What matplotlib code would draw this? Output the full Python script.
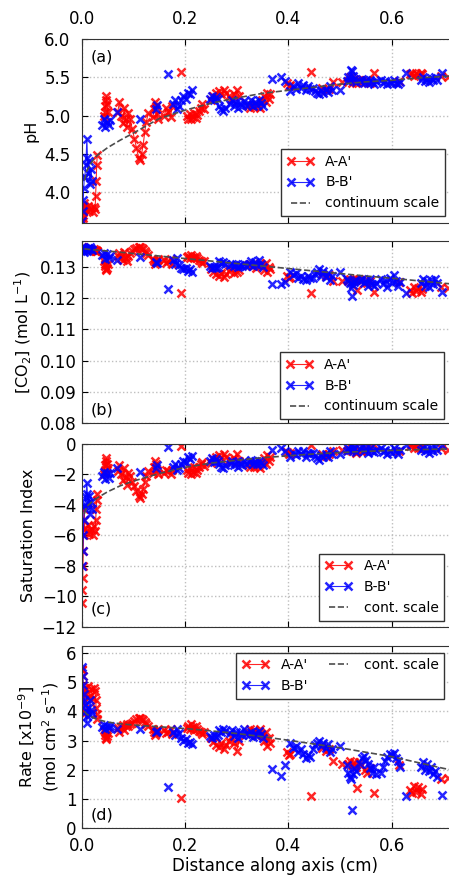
import numpy as np
import matplotlib.pyplot as plt
from matplotlib.ticker import FormatStrFormatter

nan = np.nan

# Profile A-A' : positions along axis (cm), clusters split by nan
red_x = [0.001, 0.0015, 0.002, 0.0025, 0.003, 0.0035, 0.004, 0.005,
         0.006, 0.009, 0.012, 0.015, 0.018, 0.021, 0.024, 0.026, 0.027, 0.028, 0.029, 0.030, nan,
         0.044, 0.045, 0.046, 0.047, 0.048, 0.049, 0.050, nan,
         0.070, 0.073, 0.076, 0.079, 0.082, 0.085, 0.088, 0.090,
         0.094, 0.098, 0.102, 0.106, 0.110, 0.113, 0.116, 0.119, 0.122, 0.125, 0.129, nan,
         0.138, 0.140, 0.142, 0.144, 0.146, 0.148, nan,
         0.160, 0.164, 0.168, 0.172, 0.175, nan,
         0.192, nan,
         0.203, 0.206, 0.209, 0.212, 0.215, 0.218, 0.221, 0.224, 0.227, 0.230, 0.233, 0.236, nan,
         0.250, 0.255, 0.260, 0.265, 0.270, 0.275, 0.280, 0.285, 0.290, 0.295, 0.300, 0.305, nan,
         0.322, 0.326, 0.330, 0.334, 0.338, 0.342, 0.346, 0.350, 0.353, 0.356, 0.359, 0.362, 0.365, nan,
         0.398, 0.401, 0.404, nan,
         0.444, nan,
         0.465, 0.472, 0.479, nan,
         0.487, nan, 0.503, nan,
         0.516, 0.520, 0.524, 0.528, 0.532, 0.536, 0.540, nan,
         0.533, nan,
         0.548, 0.553, 0.558, nan,
         0.566, nan,
         0.614, nan,
         0.636, 0.640, 0.644, 0.648, 0.652, 0.656, 0.659, nan,
         0.695, nan, 0.710]

red_ph = [3.60, 3.62, 3.66, 3.70, 3.74, 3.78, 3.82, 3.86,
          3.80, 3.76, 3.82, 3.75, 3.79, 3.74, 3.80, 3.78, 3.95, 4.15, 4.35, 4.48, nan,
          5.00, 5.05, 5.12, 5.20, 5.25, 5.15, 5.05, nan,
          5.05, 5.18, 5.00, 4.90, 5.10, 4.95, 4.85, 5.03,
          4.95, 4.82, 4.70, 4.58, 4.45, 4.42, 4.50, 4.62, 4.78, 4.92, 5.03, nan,
          4.98, 5.08, 5.18, 5.12, 5.02, 4.96, nan,
          5.00, 5.10, 5.05, 4.98, 5.12, nan,
          5.57, nan,
          5.00, 4.96, 5.02, 4.95, 4.98, 5.03, 4.97, 5.01, 5.06, 5.10, 5.15, 5.08, nan,
          5.20, 5.26, 5.30, 5.32, 5.28, 5.33, 5.30, 5.25, 5.22, 5.28, 5.33, 5.25, nan,
          5.12, 5.10, 5.14, 5.11, 5.15, 5.12, 5.10, 5.20, 5.26, 5.18, 5.30, 5.22, 5.28, nan,
          5.42, 5.38, 5.40, nan,
          5.57, nan,
          5.36, 5.33, 5.35, nan,
          5.44, nan, 5.44, nan,
          5.45, 5.50, 5.43, 5.48, 5.42, 5.46, 5.44, nan,
          5.47, nan,
          5.44, 5.46, 5.43, nan,
          5.55, nan,
          5.45, nan,
          5.54, 5.56, 5.52, 5.55, 5.53, 5.56, 5.54, nan,
          5.52, nan, 5.50]

red_co2 = [0.1365, 0.1362, 0.1360, 0.1363, 0.1358, 0.1361, 0.1359, 0.1362,
           0.1358, 0.1355, 0.1359, 0.1353, 0.1357, 0.1354, 0.1356, 0.1352, 0.1353, 0.1350, 0.1352, 0.1351, nan,
           0.1318, 0.1310, 0.1302, 0.1295, 0.1290, 0.1298, 0.1308, nan,
           0.1335, 0.1345, 0.1330, 0.1322, 0.1348, 0.1328, 0.1318, 0.1335,
           0.1345, 0.1350, 0.1356, 0.1360, 0.1364, 0.1365, 0.1362, 0.1358, 0.1352, 0.1345, 0.1338, nan,
           0.1325, 0.1318, 0.1311, 0.1315, 0.1322, 0.1327, nan,
           0.1322, 0.1312, 0.1318, 0.1325, 0.1310, nan,
           0.1217, nan,
           0.1332, 0.1336, 0.1330, 0.1338, 0.1333, 0.1328, 0.1335, 0.1330, 0.1322, 0.1318, 0.1312, 0.1320, nan,
           0.1294, 0.1285, 0.1278, 0.1272, 0.1282, 0.1268, 0.1276, 0.1288, 0.1295, 0.1280, 0.1285, 0.1290, nan,
           0.1305, 0.1310, 0.1302, 0.1308, 0.1298, 0.1305, 0.1312, 0.1305, 0.1290, 0.1312, 0.1285, 0.1300, 0.1292, nan,
           0.1272, 0.1264, 0.1268, nan,
           0.1217, nan,
           0.1278, 0.1272, 0.1275, nan,
           0.1255, nan, 0.1255, nan,
           0.1258, 0.1262, 0.1256, 0.1260, 0.1257, 0.1261, 0.1258, nan,
           0.1225, nan,
           0.1252, 0.1248, 0.1255, nan,
           0.1221, nan,
           0.1251, nan,
           0.1225, 0.1218, 0.1235, 0.1222, 0.1232, 0.1219, 0.1228, nan,
           0.1235, nan, 0.1232]

red_si = [-10.4, -9.6, -8.8, -8.0, -7.0, -6.0, -5.0, -4.3,
          -5.5, -5.8, -5.3, -5.9, -5.6, -5.95, -5.4, -5.7, -5.0, -4.3, -3.7, -3.3, nan,
          -2.0, -1.7, -1.4, -1.1, -0.95, -1.3, -1.6, nan,
          -1.8, -1.4, -2.0, -2.4, -1.6, -2.2, -2.7, -1.9,
          -2.1, -2.5, -2.8, -3.1, -3.45, -3.58, -3.3, -2.95, -2.5, -2.1, -1.8, nan,
          -1.9, -1.5, -1.15, -1.35, -1.75, -2.0, nan,
          -1.9, -1.7, -1.8, -2.0, -1.7, nan,
          -0.12, nan,
          -1.7, -1.95, -1.6, -2.0, -1.85, -1.55, -1.9, -1.7, -1.5, -1.35, -1.2, -1.45, nan,
          -1.25, -1.0, -0.85, -0.75, -0.95, -0.7, -0.85, -1.05, -1.2, -0.95, -0.65, -1.1, nan,
          -1.4, -1.55, -1.35, -1.5, -1.3, -1.45, -1.6, -1.2, -0.95, -1.3, -0.75, -1.1, -0.85, nan,
          -0.55, -0.7, -0.6, nan,
          -0.08, nan,
          -0.7, -0.8, -0.65, nan,
          -0.45, nan, -0.4, nan,
          -0.4, -0.15, -0.5, -0.25, -0.6, -0.35, -0.45, nan,
          -0.5, nan,
          -0.3, -0.45, -0.2, nan,
          -0.08, nan,
          -0.5, nan,
          -0.15, -0.05, -0.3, -0.1, -0.25, -0.02, -0.2, nan,
          -0.3, nan, -0.4]

red_rate = [5.45, 5.4, 5.2, 4.9, 4.6, 4.3, 4.0, 3.9,
            4.8, 4.6, 4.85, 4.5, 4.75, 4.45, 4.8, 4.7, 4.4, 4.1, 3.9, 3.75, nan,
            3.35, 3.28, 3.2, 3.1, 3.04, 3.15, 3.25, nan,
            3.42, 3.3, 3.45, 3.52, 3.35, 3.48, 3.55, 3.5,
            3.55, 3.6, 3.65, 3.72, 3.76, 3.78, 3.74, 3.7, 3.62, 3.55, 3.5, nan,
            3.38, 3.3, 3.2, 3.25, 3.35, 3.4, nan,
            3.35, 3.25, 3.3, 3.4, 3.22, nan,
            1.05, nan,
            3.42, 3.5, 3.38, 3.55, 3.45, 3.36, 3.48, 3.4, 3.32, 3.28, 3.21, 3.3, nan,
            3.1, 2.95, 2.85, 2.78, 2.9, 2.72, 2.85, 3.0, 3.12, 2.9, 2.65, 3.0, nan,
            3.3, 3.4, 3.25, 3.35, 3.2, 3.3, 3.38, 3.2, 3.0, 3.3, 2.8, 3.1, 2.9, nan,
            2.62, 2.5, 2.55, nan,
            1.09, nan,
            2.75, 2.65, 2.7, nan,
            2.3, nan, 2.2, nan,
            2.2, 2.3, 2.15, 2.25, 2.1, 2.28, 2.18, nan,
            1.38, nan,
            2.0, 1.9, 2.05, nan,
            1.2, nan,
            2.15, nan,
            1.3, 1.2, 1.45, 1.25, 1.4, 1.17, 1.35, nan,
            1.68, nan, 1.73]

# Profile B-B'
blue_x = [0.001, 0.002, 0.003, 0.004, 0.005,
          0.006, 0.008, 0.010, 0.011, 0.012, 0.014, 0.016, 0.018, 0.020, nan,
          0.040, 0.043, 0.046, 0.049, 0.052, 0.055, nan,
          0.068, nan,
          0.113, nan,
          0.144, 0.146, nan,
          0.168, nan,
          0.177, 0.181, 0.185, 0.189, 0.193, 0.197, 0.201, 0.205, 0.209, 0.213, nan,
          0.248, 0.252, 0.256, 0.260, 0.264, nan,
          0.266, 0.270, 0.274, 0.278, nan,
          0.287, 0.291, 0.295, 0.299, 0.303, 0.307, 0.311, 0.315, 0.319, nan,
          0.323, 0.327, 0.331, 0.335, 0.339, 0.343, 0.347, 0.351, nan,
          0.368, nan, 0.385, nan, 0.394, nan,
          0.404, 0.409, 0.414, 0.419, 0.424, 0.429, 0.434, 0.439, 0.442, nan,
          0.448, 0.452, 0.456, 0.460, 0.464, 0.468, 0.472, 0.476, 0.480, 0.484, nan,
          0.500, nan,
          0.513, 0.516, 0.519, 0.522, 0.525, 0.528, 0.531, nan,
          0.524, nan,
          0.538, 0.542, 0.546, 0.550, 0.554, 0.558, 0.562, 0.566, 0.570, nan,
          0.580, 0.584, 0.588, 0.592, 0.596, 0.600, 0.604, 0.608, 0.612, 0.616, nan,
          0.627, nan,
          0.656, 0.660, 0.664, 0.668, 0.672, 0.676, 0.680, 0.684, 0.688, nan,
          0.697]

blue_ph = [3.62, 3.75, 3.90, 4.05, 4.20,
           4.20, 4.35, 4.70, 4.45, 4.25, 4.40, 4.10, 4.30, 4.15, nan,
           4.88, 4.95, 4.85, 4.92, 4.87, 4.94, nan,
           5.05, nan,
           4.95, nan,
           5.08, 5.14, nan,
           5.54, nan,
           5.15, 5.20, 5.08, 5.12, 5.20, 5.25, 5.22, 5.30, 5.28, 5.33, nan,
           5.22, 5.25, 5.20, 5.24, 5.21, nan,
           5.12, 5.08, 5.06, 5.10, nan,
           5.15, 5.20, 5.12, 5.18, 5.10, 5.16, 5.12, 5.19, 5.14, nan,
           5.15, 5.20, 5.13, 5.18, 5.14, 5.20, 5.16, 5.13, nan,
           5.48, nan, 5.50, nan, 5.45, nan,
           5.32, 5.38, 5.35, 5.42, 5.36, 5.40, 5.33, 5.38, 5.35, nan,
           5.36, 5.32, 5.30, 5.28, 5.33, 5.29, 5.35, 5.31, 5.38, 5.34, nan,
           5.34, nan,
           5.45, 5.50, 5.47, 5.59, 5.52, 5.48, 5.44, nan,
           5.58, nan,
           5.45, 5.48, 5.43, 5.46, 5.42, 5.47, 5.44, 5.41, 5.45, nan,
           5.47, 5.43, 5.45, 5.41, 5.44, 5.42, 5.46, 5.43, 5.41, 5.44, nan,
           5.56, nan,
           5.47, 5.50, 5.45, 5.48, 5.44, 5.49, 5.46, 5.50, 5.47, nan,
           5.56]

blue_co2 = [0.1365, 0.1358, 0.1352, 0.1348, 0.1362,
            0.1362, 0.1358, 0.1352, 0.1356, 0.1362, 0.1357, 0.1364, 0.1359, 0.1355, nan,
            0.1338, 0.1345, 0.1325, 0.1342, 0.1330, 0.1335, nan,
            0.1322, nan,
            0.1332, nan,
            0.1316, 0.1312, nan,
            0.1228, nan,
            0.1322, 0.1310, 0.1328, 0.1305, 0.1298, 0.1293, 0.1296, 0.1288, 0.1292, 0.1284, nan,
            0.1302, 0.1298, 0.1301, 0.1297, 0.1300, nan,
            0.1318, 0.1314, 0.1316, 0.1310, nan,
            0.1305, 0.1310, 0.1302, 0.1308, 0.1300, 0.1306, 0.1303, 0.1310, 0.1304, nan,
            0.1308, 0.1318, 0.1302, 0.1315, 0.1305, 0.1322, 0.1310, 0.1300, nan,
            0.1247, nan, 0.1245, nan, 0.1253, nan,
            0.1285, 0.1275, 0.1280, 0.1265, 0.1272, 0.1262, 0.1258, 0.1270, 0.1266, nan,
            0.1265, 0.1278, 0.1285, 0.1295, 0.1272, 0.1288, 0.1268, 0.1280, 0.1257, 0.1270, nan,
            0.1284, nan,
            0.1262, 0.1255, 0.1248, 0.1232, 0.1242, 0.1252, 0.1258, nan,
            0.1206, nan,
            0.1255, 0.1262, 0.1248, 0.1258, 0.1240, 0.1260, 0.1245, 0.1238, 0.1250, nan,
            0.1262, 0.1245, 0.1258, 0.1235, 0.1265, 0.1248, 0.1273, 0.1255, 0.1240, 0.1252, nan,
            0.1218, nan,
            0.1250, 0.1263, 0.1240, 0.1255, 0.1235, 0.1258, 0.1245, 0.1260, 0.1248, nan,
            0.1221]

blue_si = [-8.0, -7.0, -6.0, -5.0, -4.1,
           -4.0, -3.5, -2.6, -3.3, -3.9, -3.4, -4.6, -3.8, -4.3, nan,
           -2.1, -1.85, -2.3, -1.95, -2.25, -1.9, nan,
           -1.6, nan,
           -1.85, nan,
           -1.6, -1.4, nan,
           -0.2, nan,
           -1.5, -1.3, -1.7, -1.6, -1.3, -1.1, -1.2, -0.9, -1.0, -0.8, nan,
           -1.1, -0.95, -1.2, -1.0, -1.15, nan,
           -1.35, -1.5, -1.6, -1.4, nan,
           -1.3, -1.1, -1.4, -1.2, -1.5, -1.25, -1.4, -1.15, -1.3, nan,
           -1.2, -1.08, -1.35, -1.15, -1.3, -1.1, -1.25, -1.4, nan,
           -0.4, nan, -0.3, nan, -0.45, nan,
           -0.9, -0.6, -0.75, -0.45, -0.7, -0.5, -0.85, -0.6, -0.7, nan,
           -0.6, -0.8, -0.95, -1.05, -0.75, -0.9, -0.65, -0.85, -0.5, -0.7, nan,
           -0.7, nan,
           -0.5, -0.3, -0.4, -0.08, -0.2, -0.35, -0.55, nan,
           -0.1, nan,
           -0.35, -0.2, -0.5, -0.3, -0.6, -0.25, -0.45, -0.55, -0.4, nan,
           -0.3, -0.55, -0.4, -0.7, -0.45, -0.6, -0.25, -0.5, -0.65, -0.4, nan,
           -0.08, nan,
           -0.4, -0.25, -0.5, -0.35, -0.6, -0.3, -0.45, -0.2, -0.4, nan,
           -0.08]

blue_rate = [5.5, 5.2, 4.9, 4.6, 4.4,
             4.2, 4.0, 3.6, 3.85, 4.1, 3.9, 4.4, 4.05, 3.95, nan,
             3.45, 3.52, 3.4, 3.5, 3.42, 3.48, nan,
             3.38, nan,
             3.4, nan,
             3.28, 3.32, nan,
             1.4, nan,
             3.3, 3.2, 3.38, 3.25, 3.1, 3.0, 3.05, 2.9, 2.95, 2.87, nan,
             3.15, 3.1, 3.2, 3.12, 3.18, nan,
             3.35, 3.3, 3.38, 3.32, nan,
             3.25, 3.35, 3.15, 3.3, 3.1, 3.28, 3.2, 3.38, 3.22, nan,
             3.2, 3.3, 3.12, 3.25, 3.15, 3.32, 3.22, 3.1, nan,
             2.02, nan, 1.78, nan, 2.15, nan,
             2.9, 2.75, 2.8, 2.6, 2.7, 2.55, 2.4, 2.5, 2.45, nan,
             2.7, 2.85, 2.9, 2.98, 2.8, 2.92, 2.75, 2.88, 2.6, 2.72, nan,
             2.8, nan,
             2.15, 1.9, 1.75, 1.7, 1.85, 2.05, 1.95, nan,
             0.63, nan,
             2.2, 2.4, 2.47, 2.35, 2.2, 2.05, 1.9, 2.1, 1.85, nan,
             1.9, 2.1, 2.3, 2.45, 2.55, 2.5, 2.59, 2.4, 2.3, 2.1, nan,
             1.1, nan,
             2.1, 2.25, 2.0, 2.2, 1.95, 2.1, 1.85, 1.95, 1.75, nan,
             1.13]

# Continuum-scale model curves
cont_x = [0.005, 0.01, 0.02, 0.03, 0.05, 0.075, 0.1, 0.15, 0.2, 0.25,
          0.3, 0.35, 0.4, 0.45, 0.5, 0.55, 0.6, 0.65, 0.7, 0.75]
cont_ph = [4.15, 4.28, 4.40, 4.48, 4.58, 4.68, 4.77, 4.96, 5.07, 5.16,
           5.23, 5.29, 5.33, 5.37, 5.41, 5.44, 5.46, 5.49, 5.51, 5.53]
cont_co2 = [0.1358, 0.1357, 0.1355, 0.1354, 0.1351, 0.1347, 0.1343, 0.1335, 0.1327, 0.1319,
            0.1311, 0.1303, 0.1295, 0.1287, 0.1279, 0.1271, 0.1264, 0.1256, 0.1248, 0.1241]
cont_si = [-4.6, -4.1, -3.8, -3.55, -3.15, -2.75, -2.45, -1.95, -1.55, -1.27,
           -1.08, -0.92, -0.79, -0.67, -0.58, -0.50, -0.44, -0.39, -0.35, -0.31]
cont_rate = [4.0, 3.9, 3.8, 3.72, 3.63, 3.57, 3.53, 3.47, 3.41, 3.33,
             3.24, 3.13, 3.01, 2.88, 2.75, 2.60, 2.45, 2.25, 2.05, 1.88]

plt.rcParams['font.family'] = 'DejaVu Sans'
plt.rcParams['font.size'] = 11.5
plt.rcParams['mathtext.default'] = 'regular'

W, H = 449.0, 875.0
fig = plt.figure(figsize=(W / 100, H / 100), dpi=100)


def add_panel(top, bottom):
    # axes box in pixel units; right edge runs past the canvas
    return fig.add_axes([81.7 / W, 1 - bottom / H, 387.4 / W, (bottom - top) / H])


panels = [
    dict(box=(39, 222.7), red=red_ph, blue=blue_ph, cont=cont_ph, ylim=(3.6, 6.0),
         yticks=[4.0, 4.5, 5.0, 5.5, 6.0], fmt='%.1f', ylabel='pH',
         tag='(a)', tag_y=0.945, tag_va='top', cont_label='continuum scale',
         leg=dict(loc='lower right', anchor=(445, 216), ncol=1)),
    dict(box=(241, 423.3), red=red_co2, blue=blue_co2, cont=cont_co2, ylim=(0.08, 0.1383),
         yticks=[0.08, 0.09, 0.10, 0.11, 0.12, 0.13], fmt='%.2f',
         ylabel='[CO$_2$] (mol L$^{-1}$)',
         tag='(b)', tag_y=0.03, tag_va='bottom', cont_label='continuum scale',
         leg=dict(loc='lower right', anchor=(444, 419), ncol=1)),
    dict(box=(443.7, 627), red=red_si, blue=blue_si, cont=cont_si, ylim=(-12, 0),
         yticks=[-12, -10, -8, -6, -4, -2, 0], fmt=None, ylabel='Saturation Index',
         tag='(c)', tag_y=0.055, tag_va='bottom', cont_label='cont. scale',
         leg=dict(loc='lower right', anchor=(444, 620.7), ncol=1)),
    dict(box=(646, 828.3), red=red_rate, blue=blue_rate, cont=cont_rate, ylim=(0, 6.23),
         yticks=[0, 1, 2, 3, 4, 5, 6], fmt=None,
         ylabel='Rate [x10$^{-9}$]\n(mol cm$^2$ s$^{-1}$)',
         tag='(d)', tag_y=0.03, tag_va='bottom', cont_label='cont. scale',
         leg=dict(loc='upper right', anchor=(444, 652.7), ncol=2)),
]

for i, p in enumerate(panels):
    ax = add_panel(*p['box'])
    hr, = ax.plot(red_x, p['red'], '-', color='r', lw=0.8, marker='x', ms=6, mew=1.8,
                  alpha=0.85, label="A-A'")
    hb, = ax.plot(blue_x, p['blue'], '-', color='b', lw=0.8, marker='x', ms=6, mew=1.8,
                  alpha=0.85, label="B-B'")
    hc, = ax.plot(cont_x, p['cont'], '--', color='0.3', lw=1.2, label=p['cont_label'])

    ax.set_xlim(0, 0.75)
    ax.set_ylim(*p['ylim'])
    ax.set_xticks([0.0, 0.2, 0.4, 0.6])
    ax.xaxis.set_major_formatter(FormatStrFormatter('%.1f'))
    ax.set_yticks(p['yticks'])
    if p['fmt']:
        ax.yaxis.set_major_formatter(FormatStrFormatter(p['fmt']))
    ax.grid(True, color='0.75', linestyle=':', lw=1.0)
    ax.tick_params(direction='in', top=True, right=True, length=4, labelsize=12)
    ax.tick_params(axis='x', pad=6)
    for sp in ax.spines.values():
        sp.set_color('0.2')

    if i == 0:
        ax.tick_params(labeltop=True, labelbottom=False, pad=8)
    elif i == 3:
        ax.set_xlabel('Distance along axis (cm)', fontsize=12, labelpad=2)
    else:
        ax.tick_params(labelbottom=False)

    ax.set_ylabel(p['ylabel'], fontsize=11.5)
    ax.text(0.023, p['tag_y'], p['tag'], transform=ax.transAxes, ha='left',
            va=p['tag_va'], fontsize=11.5)

    lg = p['leg']
    leg = fig.legend(handles=[hr, hb, hc], loc=lg['loc'], ncol=lg['ncol'],
                     bbox_to_anchor=(lg['anchor'][0] / W, 1 - lg['anchor'][1] / H),
                     bbox_transform=fig.transFigure, borderaxespad=0.0, numpoints=2,
                     fancybox=False, framealpha=1.0, edgecolor='0.2', fontsize=10,
                     handlelength=2.0, columnspacing=1.2)
    leg.get_frame().set_linewidth(1.0)

fig.savefig('out.png', dpi=100)
